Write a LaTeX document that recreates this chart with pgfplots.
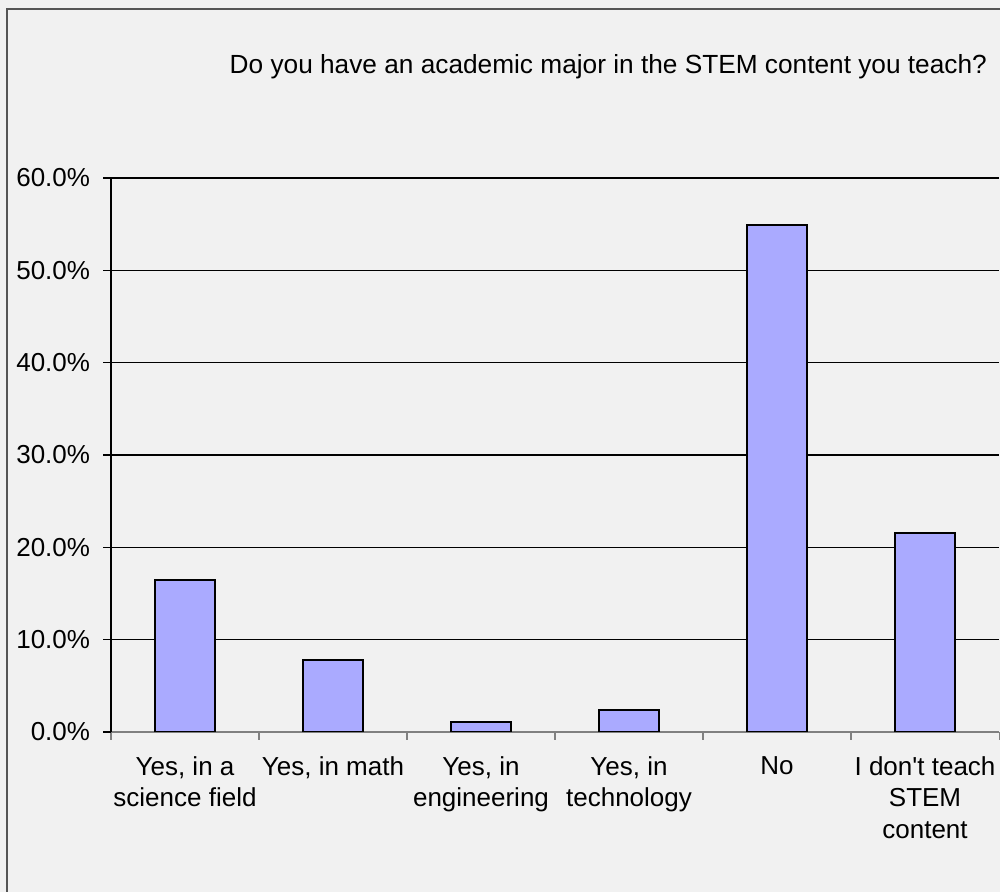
\documentclass[border=0pt]{standalone}
\usepackage{pgfplots}
\pgfplotsset{compat=1.18}
\usepackage{fontspec}
\setmainfont{Liberation Sans}
\definecolor{bgc}{HTML}{F1F1F1}
\definecolor{barc}{HTML}{AAAAFF}
\definecolor{framec}{HTML}{555555}

\begin{document}
\begin{tikzpicture}[x=0.015cm,y=0.015cm,font=\fontsize{11.1}{13.6}\selectfont]
% page = 1000 x 892 px, 1 px = 0.015 cm
\useasboundingbox (0,0) rectangle (1000,892);
\clip (0,0) rectangle (1000,892);
\fill[bgc] (0,0) rectangle (1000,892);
\draw[framec, line width=0.5pt] (7,-10) |- (1010,883);
\begin{axis}[
    at={(1.665cm,2.4cm)}, anchor=south west,
    width=13.32cm, height=8.31cm, scale only axis,
    xmin=-0.5, xmax=5.5, ymin=0, ymax=60,
    axis x line*=bottom, axis y line*=left,
    x axis line style={draw=gray, line width=0.45pt},
    y axis line style={draw=black, line width=0.45pt},
    ymajorgrids, grid style={black, line width=0.45pt},
    ytick={0,10,...,60},
    yticklabel={\pgfmathprintnumber[fixed,fixed zerofill,precision=1]{\tick}\%},
    /pgf/number format/assume math mode=true,
    tick align=outside,
    major tick length=0.12cm, minor tick length=0.12cm,
    ytick style={black, line width=0.45pt},
    xtick={0,...,5},
    xticklabels={{Yes, in a\\science field},{Yes, in math},{Yes, in\\engineering},{Yes, in\\technology},{No},{I don\textquotesingle t teach\\STEM\\content}},
    xticklabel style={align=center, yshift=-0.12cm},
    major x tick style={draw=none},
    minor xtick={-0.5,0.5,...,5.5},
    minor x tick style={gray, line width=0.45pt},
    yticklabel style={xshift=-0.07cm},
    every axis title shift=0pt,
    title={Do you have an academic major in the STEM content you teach?},
    title style={at={(0.56,1.2)}, anchor=center, font=\fontsize{11.2}{13.6}\selectfont},
    ybar, bar width=0.9cm,
]
\addplot[fill=barc, draw=black, line width=0.85pt] coordinates {
    (0,16.5) (1,7.8) (2,1.1) (3,2.35) (4,54.9) (5,21.6)
};
\end{axis}
\end{tikzpicture}
\end{document}
